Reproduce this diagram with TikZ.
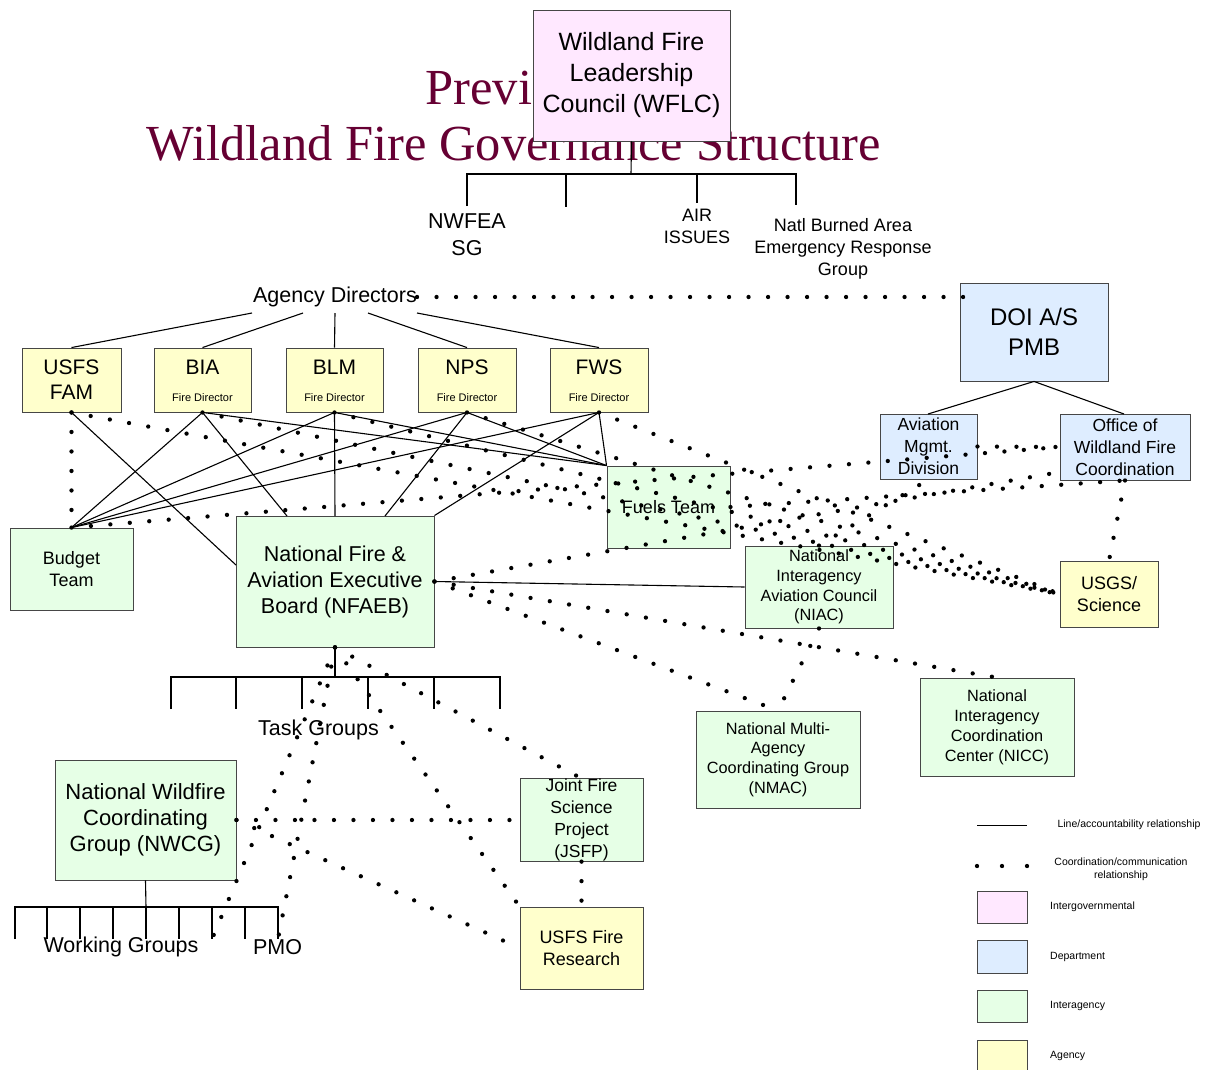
\documentclass[tikz,border=0pt]{standalone}
\usepackage{fontspec}
\setmainfont{Liberation Sans}
\newfontfamily\titlefont{Liberation Serif}
\newcommand{\myfs}[2]{\fontsize{#1}{#2}\selectfont}
\definecolor{pinkc}{RGB}{255,232,255}
\definecolor{bluec}{RGB}{222,237,255}
\definecolor{greenc}{RGB}{230,255,230}
\definecolor{yellowc}{RGB}{255,255,204}
\definecolor{titlec}{RGB}{102,0,51}
\definecolor{edgec}{RGB}{70,70,70}
\begin{document}
\begin{tikzpicture}[x=1pt,y=-1pt,
  bx/.style 2 args={draw=edgec, line width=0.9pt, inner sep=0pt, align=center, minimum width=#1, minimum height=#2},
  ln/.style={line width=1.1pt, black},
  dt/.style={line width=4.3pt, line cap=round, dash pattern=on 0pt off 19.5pt, black},
  lbl/.style={inner sep=0pt, align=center},
  agname/.style={lbl, font=\myfs{21}{25}},
  fdir/.style={lbl, font=\myfs{11}{13}},
  legt/.style={lbl, font=\myfs{10.5}{13}},
]
\useasboundingbox (0,0) rectangle (1213,1069);

% title (partly hidden behind WFLC)
\node[anchor=base, inner sep=0pt, text=titlec, font=\titlefont\myfs{50.5}{57}] (t1) at (514,104) {Previous};
\node[anchor=base, inner sep=0pt, text=titlec, font=\titlefont\myfs{50.5}{57}] (t2) at (514,160) {Wildland Fire Governance Structure};

% boxes
\node[bx={197pt}{131pt}, fill=pinkc, font=\myfs{25}{31}] (wflc) at (631.5,75.5) {Wildland Fire\\Leadership\\Council (WFLC)};
\node[bx={148pt}{98pt}, fill=bluec, font=\myfs{24}{30}] (doi) at (1034,332) {DOI A/S\\PMB};
\node[bx={97pt}{65pt}, fill=bluec, font=\myfs{17.5}{22}] (avi) at (928.5,446.5) {Aviation\\Mgmt.\\Division};
\node[bx={130pt}{66pt}, fill=bluec, font=\myfs{17.5}{22}] (owf) at (1125,447) {Office of\\Wildland Fire\\Coordination};
\node[bx={98pt}{66pt}, fill=yellowc, font=\myfs{18}{22}] (usgs) at (1109,594) {USGS/\\Science};

\node[bx={99pt}{64pt}, fill=yellowc, font=\myfs{21}{25}] (usfs) at (71.5,380) {USFS\\FAM};
\node[bx={97pt}{64pt}, fill=yellowc] (bia) at (202.5,380) {};
\node[bx={97pt}{64pt}, fill=yellowc] (blm) at (334.5,380) {};
\node[bx={98pt}{64pt}, fill=yellowc] (nps) at (467,380) {};
\node[bx={98pt}{64pt}, fill=yellowc] (fws) at (599,380) {};
\node[agname] (biaL) at (202.5,367) {BIA};
\node[agname] (blmL) at (334.5,367) {BLM};
\node[agname] (npsL) at (467,367) {NPS};
\node[agname] (fwsL) at (599,367) {FWS};
\node[fdir] (biaF) at (202.5,398) {Fire Director};
\node[fdir] (blmF) at (334.5,398) {Fire Director};
\node[fdir] (npsF) at (467,398) {Fire Director};
\node[fdir] (fwsF) at (599,398) {Fire Director};

\node[bx={123pt}{82pt}, fill=greenc, font=\myfs{18}{22}] (bud) at (71.5,569) {Budget\\Team};
\node[bx={198pt}{131pt}, fill=greenc, font=\myfs{21.5}{26}] (nfaeb) at (335,581.5) {National Fire \&\\Aviation Executive\\Board (NFAEB)};
\node[bx={123pt}{82pt}, fill=greenc, font=\myfs{18}{22}] (fuel) at (668.5,507) {Fuels Team};
\node[bx={148pt}{82pt}, fill=greenc, font=\myfs{16.3}{19.6}] (niac) at (819,587) {National\\Interagency\\Aviation Council\\(NIAC)};
\node[bx={164pt}{97pt}, fill=greenc, font=\myfs{16.3}{19.6}] (nmac) at (778,759.5) {National Multi-\\Agency\\Coordinating Group\\(NMAC)};
\node[bx={154pt}{98pt}, fill=greenc, font=\myfs{16.3}{20}] (nicc) at (997,727) {National\\Interagency\\Coordination\\Center (NICC)};
\node[bx={181pt}{120pt}, fill=greenc, font=\myfs{22}{26}] (nwcg) at (145.5,820) {National Wildfire\\Coordinating\\Group (NWCG)};
\node[bx={123pt}{82pt}, fill=greenc, font=\myfs{17.5}{22}] (jfsp) at (581.5,820) {Joint Fire\\Science\\Project\\(JSFP)};
\node[bx={123pt}{82pt}, fill=yellowc, font=\myfs{18}{22}] (usfsr) at (581.5,948) {USFS Fire\\Research};

% free labels
\node[lbl, font=\myfs{21.5}{26}] (ad) at (335,297) {Agency Directors};
\node[lbl, font=\myfs{21.5}{27}] (nwfea) at (467,234.5) {NWFEA\\SG};
\node[lbl, font=\myfs{18}{22}] (air) at (697,226) {AIR\\ISSUES};
\node[lbl, font=\myfs{18}{22}] (baer) at (843,249) {Natl Burned Area\\Emergency Response\\Group};
\node[lbl, font=\myfs{21.5}{26}] (tg) at (318.5,730) {Task Groups};
\node[lbl, font=\myfs{21.5}{26}] (wg) at (121,947) {Working Groups};
\node[lbl, font=\myfs{21.5}{26}] (pmo) at (277.5,947) {PMO};

% coordinates
\coordinate (ad1) at (252,313);
\coordinate (ad2) at (303,313);
\coordinate (ad3) at (335,313);
\coordinate (ad4) at (368,313);
\coordinate (ad5) at (417,313);
\coordinate (doiL) at (968,297);
\coordinate (nfw) at (236,565);
\coordinate (nfn1) at (287,516);
\coordinate (nfn3) at (385,516);
\coordinate (owfL2) at (1060,472);
\coordinate (wg7) at (212,939);
\coordinate (pmoT) at (278,939);

% solid lines
\draw[ln] (ad1) -- (usfs.north);
\draw[ln] (ad2) -- (bia.north);
\draw[ln] (ad3) -- (blm.north);
\draw[ln] (ad4) -- (nps.north);
\draw[ln] (ad5) -- (fws.north);

\draw[ln] (wflc.south) -- (631,174);
\draw[ln] (467,206) -- (467,174) -- (796,174) -- (796,205);
\draw[ln] (566,174) -- (566,207);
\draw[ln] (697,174) -- (697,203);

\draw[ln] (doi.south) -- (928,414);
\draw[ln] (doi.south) -- (1124,414);

\draw[ln] (usfs.south) -- (nfw);
\foreach \a in {bia,blm,nps,fws}{
  \draw[ln] (\a.south) -- (bud.north);
  \draw[ln] (\a.south) -- (fuel.north west);
}
\draw[ln] (bia.south) -- (nfn1);
\draw[ln] (blm.south) -- (335,516);
\draw[ln] (nps.south) -- (nfn3);
\draw[ln] (fws.south) -- (nfaeb.north east);
\draw[ln] (nfaeb.east) -- (niac.west);

\draw[ln] (nfaeb.south) -- (335,677);
\draw[ln] (171,709) -- (171,677) -- (500,677) -- (500,709);
\foreach \x in {236,302,368,434}{ \draw[ln] (\x,677) -- (\x,709); }

\draw[ln] (nwcg.south) -- (146,907);
\draw[ln] (15,939) -- (15,907) -- (278,907) -- (278,939);
\foreach \x in {47,80,113,146,179,212,245}{ \draw[ln] (\x,907) -- (\x,939); }

% dotted lines
\draw[dt] (ad.east) -- (doiL);
\draw[dt] (usfs.south) -- (bud.north);
\foreach \a in {usfs,bia,blm,nps,fws}{ \draw[dt] (\a.south) -- (usgs.west); }
\draw[dt] (bud.north) -- (owf.west);
\draw[dt] (avi.east) -- (owf.west);
\draw[dt] (fuel.east) -- (owf.south);
\draw[dt] (nfaeb.east) -- (owfL2);
\draw[dt] (niac.north) -- (avi.south);
\draw[dt] (owf.south) -- (usgs.north);
\draw[dt] (nfaeb.east) -- (nmac.north);
\draw[dt] (nfaeb.east) -- (nicc.north);
\draw[dt] (niac.south) -- (nmac.north);
\draw[dt] (nfaeb.south) -- (wg7);
\draw[dt] (nfaeb.south) -- (pmoT);
\draw[dt] (nfaeb.south) -- (jfsp.north);
\draw[dt] (nfaeb.south) -- (usfsr.north west);
\draw[dt] (nwcg.east) -- (jfsp.west);
\draw[dt] (nwcg.east) -- (usfsr.west);
\draw[dt] (jfsp.south) -- (usfsr.north);

% legend
\coordinate (lg1a) at (977,825);
\coordinate (lg1b) at (1027,825);
\draw[line width=1pt] (lg1a) -- (lg1b);
\node[legt] (lgt1) at (1129,825) {Line/accountability relationship};
\coordinate (lg2a) at (977,866);
\coordinate (lg2b) at (1027,866);
\draw[line width=4.3pt, line cap=round, dash pattern=on 0pt off 25pt] (lg2a) -- (lg2b);
\node[legt] (lgt2) at (1121,869.5) {Coordination/communication\\relationship};
\node[bx={50pt}{32pt}, fill=pinkc] (lgp) at (1002,907) {};
\node[legt, anchor=west] (lgt3) at (1050,907) {Intergovernmental};
\node[bx={50pt}{33pt}, fill=bluec] (lgb) at (1002,956.5) {};
\node[legt, anchor=west] (lgt4) at (1050,957) {Department};
\node[bx={50pt}{32pt}, fill=greenc] (lgg) at (1002,1006) {};
\node[legt, anchor=west] (lgt5) at (1050,1006) {Interagency};
\node[bx={50pt}{32pt}, fill=yellowc] (lgy) at (1002,1056) {};
\node[legt, anchor=west] (lgt6) at (1050,1056) {Agency};
\end{tikzpicture}
\end{document}
